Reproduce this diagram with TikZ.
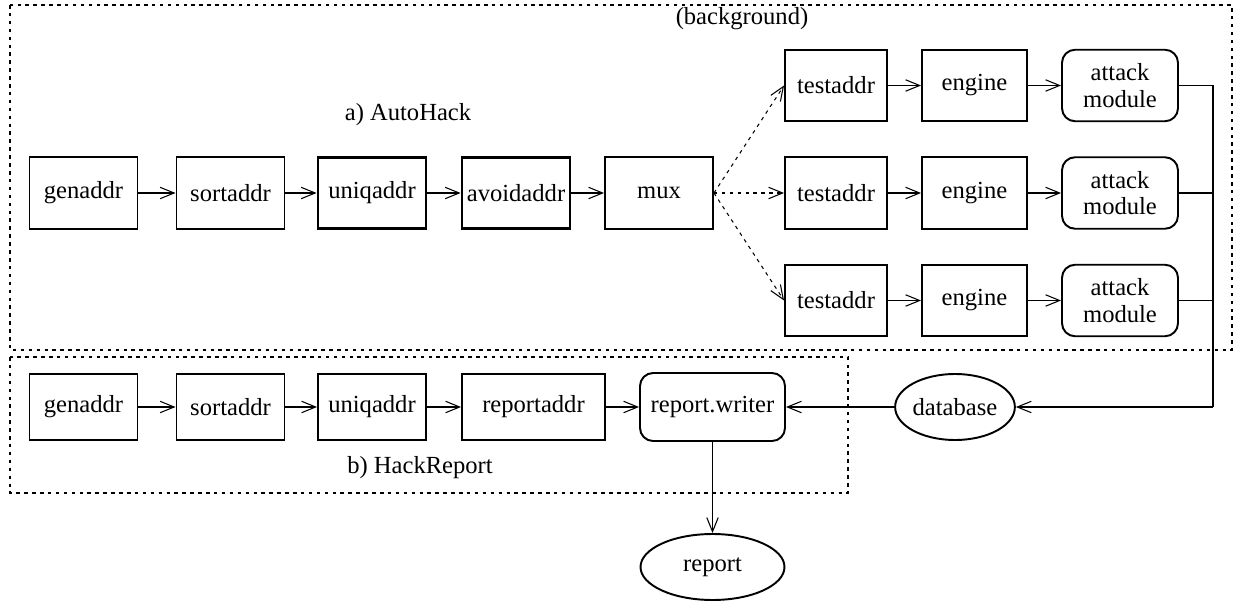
\documentclass[tikz,border=0pt]{standalone}
\usepackage{fontspec}
\setmainfont{Liberation Serif}
\usetikzlibrary{arrows.meta,shapes.geometric}

\begin{document}
\begin{tikzpicture}[x=0.02cm, y=-0.02cm, font=\fontsize{14}{15}\selectfont,
    blk/.style={draw, line width=1.1pt, minimum width=2.16cm, minimum height=1.43cm, inner sep=0pt},
    bold/.style={blk, line width=1.6pt},
    rblk/.style={blk, rounded corners=0.26cm, align=center},
    oval/.style={draw, ellipse, line width=1.1pt, inner sep=0pt},
    flow/.style={-{Straight Barb[length=8pt,width=6.5pt]}, line width=0.6pt},
    fan/.style={flow, dash pattern=on 2pt off 2.5pt},
    grp/.style={line width=0.6pt, dash pattern=on 2pt off 2.5pt}]
    \useasboundingbox (0,0) rectangle (1237,601);
    % group frames
    \draw[grp] (10,5) rectangle (1232,350);
    \draw[grp] (10,357) rectangle (848,493);
    \node (lblA) at (408,115) {a) AutoHack};
    \node (lblB) at (420,468) {b) HackReport};
    \node (lblBg) at (742,19) {(background)};
    % a) AutoHack
    \node[blk] (gen) at (83.5,193) {genaddr};
    \node[blk] (sort) at (230.5,193) {sortaddr};
    \node[bold] (uniq) at (372,193) {uniqaddr};
    \node[bold] (avoid) at (516,193) {avoidaddr};
    \node[blk] (mux) at (659,193) {mux};
    \foreach \r/\y in {1/85.5, 2/193, 3/300.5} {
        \node[blk, minimum width=2.04cm] (test\r) at (836,\y) {testaddr};
        \node[blk, minimum width=2.1cm] (eng\r) at (974.5,\y) {engine};
        \node[rblk, minimum width=2.32cm] (atk\r) at (1120,\y) {attack\\module};
        \draw[flow] (test\r) -- (eng\r);
        \draw[flow] (eng\r) -- (atk\r);
        \draw[fan] (mux.east) -- (test\r.west);
    }
    \draw[flow] (gen) -- (sort);
    \draw[flow] (sort) -- (uniq);
    \draw[flow] (uniq) -- (avoid);
    \draw[flow] (avoid) -- (mux);
    % b) HackReport
    \node[blk, minimum height=1.32cm] (gen2) at (83.5,407) {genaddr};
    \node[blk, minimum height=1.32cm] (sort2) at (230.5,407) {sortaddr};
    \node[blk, minimum height=1.32cm] (uniq2) at (372,407) {uniqaddr};
    \node[blk, minimum height=1.32cm, minimum width=2.86cm] (rep2) at (533.5,407) {reportaddr};
    \node[rblk, minimum height=1.36cm, minimum width=2.9cm] (writer) at (712.5,407) {report.writer};
    \draw[flow] (gen2) -- (sort2);
    \draw[flow] (sort2) -- (uniq2);
    \draw[flow] (uniq2) -- (rep2);
    \draw[flow] (rep2) -- (writer);
    % collection
    \node[oval, minimum width=2.0cm, minimum height=1.32cm] (db) at (955,407) {database};
    \node[oval, minimum width=2.88cm, minimum height=1.32cm] (report) at (712.5,567) {report};
    \coordinate (bus) at (1213,407);
    \foreach \r in {1,2,3}
        \draw[line width=0.6pt] (atk\r.east) -- (atk\r.east -| bus);
    \draw[line width=0.6pt] (atk1.east -| bus) -- (bus);
    \draw[flow] (bus) -- (db);
    \draw[flow] (db) -- (writer);
    \draw[flow] (writer) -- (report);
\end{tikzpicture}
\end{document}
